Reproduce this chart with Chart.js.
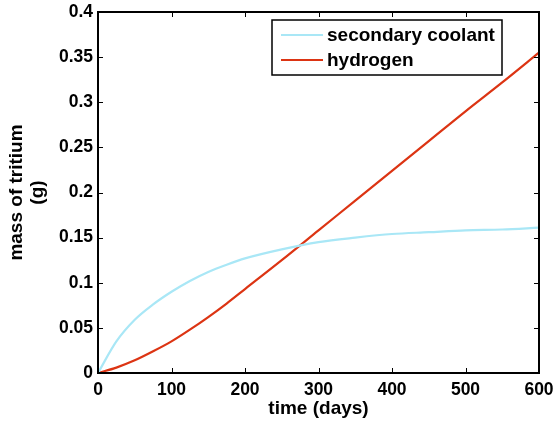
<!DOCTYPE html>
<html>
<head>
<meta charset="utf-8">
<script src="https://cdn.jsdelivr.net/npm/chart.js@4.4.0/dist/chart.umd.min.js"></script>
<style>
  html, body { margin: 0; padding: 0; background: #fff; }
  #wrap { width: 555px; height: 426px; }
</style>
</head>
<body>
<div id="wrap"><canvas id="myChart" width="555" height="426"></canvas></div>
<script>
// days
const days = [0, 25, 50, 75, 100, 125, 150, 175, 200, 250, 300, 350, 400, 450, 500, 550, 600]
// mass of tritium (g)
const secondaryCoolant = [0, 0.035, 0.059, 0.076, 0.090, 0.102, 0.112, 0.120, 0.127, 0.137, 0.145, 0.150, 0.154, 0.156, 0.158, 0.159, 0.161]
const hydrogen = [0, 0.006, 0.014, 0.024, 0.035, 0.048, 0.062, 0.077, 0.093, 0.125, 0.158, 0.191, 0.224, 0.257, 0.290, 0.322, 0.355]
const xTicks = [0, 100, 200, 300, 400, 500, 600]
const yTicks = [0, 0.05, 0.1, 0.15, 0.2, 0.25, 0.3, 0.35, 0.4]

const FAMILY = '"Liberation Sans", Arial, sans-serif'

function toPoints(xs, ys){
    return xs.map((x, i) => ({x: x, y: ys[i]}))
}

// MATLAB-style box with inward ticks plus legend
const frame = {
    id: 'frame',
    afterDatasetsDraw(chart){
        const ctx = chart.ctx
        const a = chart.chartArea
        const xs = chart.scales.x, ys = chart.scales.y
        ctx.save()
        ctx.strokeStyle = '#000'
        ctx.lineWidth = 1
        ctx.beginPath()
        xTicks.forEach(t => {
            const px = Math.round(xs.getPixelForValue(t)) + 0.5
            ctx.moveTo(px, a.bottom); ctx.lineTo(px, a.bottom - 5)
            ctx.moveTo(px, a.top); ctx.lineTo(px, a.top + 5)
        })
        yTicks.forEach(t => {
            const py = Math.round(ys.getPixelForValue(t)) + 0.5
            ctx.moveTo(a.left, py); ctx.lineTo(a.left + 5, py)
            ctx.moveTo(a.right, py); ctx.lineTo(a.right - 5, py)
        })
        ctx.stroke()
        ctx.lineWidth = 2
        ctx.strokeRect(Math.round(a.left), Math.round(a.top), Math.round(a.right - a.left), Math.round(a.bottom - a.top))

        // legend
        const lx = 272, ly = 20, lw = 230, lh = 55
        ctx.fillStyle = '#fff'
        ctx.fillRect(lx, ly, lw, lh)
        ctx.lineWidth = 1.5
        ctx.strokeStyle = '#000'
        ctx.strokeRect(lx, ly, lw, lh)
        ctx.font = 'bold 19px ' + FAMILY
        ctx.textBaseline = 'middle'
        chart.data.datasets.forEach((ds, i) => {
            const y = ly + 15 + i * 25
            ctx.strokeStyle = ds.borderColor
            ctx.lineWidth = 2
            ctx.beginPath()
            ctx.moveTo(lx + 9, y); ctx.lineTo(lx + 51, y)
            ctx.stroke()
            ctx.fillStyle = '#000'
            ctx.fillText(ds.label, lx + 55, y + 1)
        })
        ctx.restore()
    }
}

function createChart(){
    const ctx = document.getElementById('myChart').getContext('2d')
    new Chart(ctx, {
        type: 'line',
        data: {
            datasets: [{
                label: 'secondary coolant',
                data: toPoints(days, secondaryCoolant),
                borderColor: '#a9e7f6',
                borderWidth: 2.2,
                pointRadius: 0,
                cubicInterpolationMode: 'monotone'
            }, {
                label: 'hydrogen',
                data: toPoints(days, hydrogen),
                borderColor: '#dc3413',
                borderWidth: 2.2,
                pointRadius: 0,
                cubicInterpolationMode: 'monotone'
            }]
        },
        options: {
            responsive: false,
            animation: false,
            layout: { padding: { left: 0, top: 12, right: 16, bottom: 0 } },
            plugins: { legend: { display: false }, tooltip: { enabled: false } },
            scales: {
                x: {
                    type: 'linear', min: 0, max: 600,
                    afterBuildTicks: s => { s.ticks = xTicks.map(v => ({value: v})) },
                    afterFit: s => { s.height = 53; s.paddingLeft = 0; s.paddingRight = 0 },
                    grid: { display: false, drawTicks: false },
                    border: { display: false },
                    ticks: { color: '#000', font: { family: FAMILY, size: 17.5, weight: 'bold' }, padding: 7, maxRotation: 0 },
                    title: { display: true, text: 'time (days)', color: '#000', padding: { top: 0, bottom: 6 },
                             font: { family: FAMILY, size: 19, weight: 'bold' } }
                },
                y: {
                    type: 'linear', min: 0, max: 0.4,
                    afterBuildTicks: s => { s.ticks = yTicks.map(v => ({value: v})) },
                    afterFit: s => { s.width = 98; s.paddingTop = 0; s.paddingBottom = 0 },
                    grid: { display: false, drawTicks: false },
                    border: { display: false },
                    ticks: { color: '#000', font: { family: FAMILY, size: 17.5, weight: 'bold' }, padding: 5,
                             callback: v => String(+v.toFixed(2)) },
                    title: { display: true, text: ['mass of tritium', '(g)'], color: '#000', padding: { top: 6, bottom: 0 },
                             font: { family: FAMILY, size: 19, weight: 'bold', lineHeight: 1.1 } }
                }
            }
        },
        plugins: [frame]
    })
}

createChart()
</script>
</body>
</html>
